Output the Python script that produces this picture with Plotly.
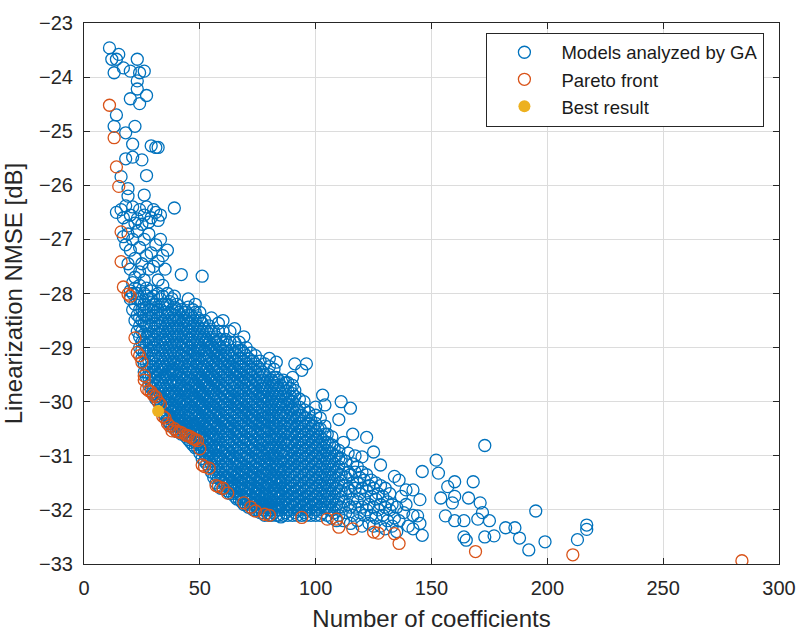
import plotly.graph_objects as go

# ---------------------------------------------------------------
# Models evaluated by the genetic algorithm (GA)
# sparse models with few coefficients (upper-left branch)
ga_sparse_coeffs = [11, 15, 12, 14, 23, 17, 20, 13, 24, 26, 23, 23, 27, 20, 24,
                    14, 13, 22, 18, 21, 29, 31, 32, 18, 21, 25, 16, 27, 19, 26,
                    19, 39, 14, 16, 18, 20, 21, 23, 24, 26, 27, 29, 31, 32, 17,
                    22, 25, 28, 19, 30, 33, 17, 18, 19, 20, 21, 22, 23, 24, 25,
                    26, 27, 28, 29, 30, 31, 32, 33, 34, 35, 36, 20, 22, 19, 21,
                    24, 26, 28, 23, 42, 51]
ga_sparse_nmse = [-23.46, -23.58, -23.67, -23.67, -23.67, -23.83, -23.89, -23.92,
                  -23.92, -23.89, -24.07, -24.22, -24.34, -24.40, -24.49, -24.70,
                  -24.91, -24.91, -25.03, -25.24, -25.27, -25.30, -25.30, -25.51,
                  -25.48, -25.53, -25.84, -25.82, -26.06, -26.18, -26.20, -26.42,
                  -26.50, -26.45, -26.38, -26.55, -26.40, -26.62, -26.45, -26.55,
                  -26.40, -26.60, -26.50, -26.65, -26.60, -26.70, -26.72, -26.68,
                  -26.75, -26.45, -26.55, -26.95, -27.10, -26.90, -27.20, -27.00,
                  -27.35, -26.85, -27.15, -27.45, -27.00, -27.30, -26.90, -27.25,
                  -27.50, -27.10, -27.40, -27.00, -27.30, -27.55, -27.20, -27.55,
                  -27.70, -27.45, -27.80, -27.60, -27.75, -27.55, -28.00, -27.65,
                  -27.68]

# dense core of the cloud: NMSE values [dB] per number of coefficients
ga_core = {
    20: [-28.10, -27.95],
    21: [-28.30, -28.00],
    22: [-28.50, -28.20, -27.90],
    23: [-28.70, -28.40, -28.10],
    24: [-29.00, -28.60, -28.30, -27.85],
    25: [-29.20, -28.90, -28.50, -28.15],
    26: [-29.45, -29.10, -28.75, -28.40, -28.00],
    27: [-29.55, -29.30, -28.95, -28.60, -28.25, -27.90],
    28: [-29.70, -29.40, -29.05, -28.80, -28.45, -28.10],
    29: [-29.75, -29.50, -29.20, -28.90, -28.60, -28.30, -27.95],
    30: [-29.85, -29.60, -29.35, -29.00, -28.70, -28.40, -28.05],
    31: [-29.95, -29.70, -29.45, -29.15, -28.85, -28.55, -28.20],
    32: [-30.00, -29.80, -29.50, -29.25, -28.95, -28.60, -28.30, -27.75],
    33: [-30.10, -29.85, -29.60, -29.35, -29.05, -28.75, -28.45, -28.10],
    34: [-30.20, -29.95, -29.70, -29.40, -29.15, -28.85, -28.55, -28.20, -27.85],
    35: [-30.25, -30.00, -29.75, -29.50, -29.20, -28.90, -28.65, -28.35],
    36: [-30.35, -30.10, -29.85, -29.55, -29.30, -29.00, -28.70, -28.40, -28.00],
    37: [-30.40, -30.15, -29.90, -29.65, -29.40, -29.10, -28.80, -28.50, -28.15],
    38: [-30.45, -30.20, -29.95, -29.70, -29.45, -29.20, -28.90, -28.60, -28.30],
    39: [-30.50, -30.30, -30.05, -29.80, -29.50, -29.25, -28.95, -28.65, -28.40, -28.05],
    40: [-30.55, -30.30, -30.10, -29.85, -29.60, -29.30, -29.05, -28.75, -28.45, -28.20],
    41: [-30.55, -30.35, -30.15, -29.90, -29.65, -29.35, -29.10, -28.80, -28.50],
    42: [-30.60, -30.40, -30.20, -29.95, -29.70, -29.45, -29.15, -28.90, -28.60, -28.30],
    43: [-30.60, -30.45, -30.25, -30.00, -29.75, -29.50, -29.20, -28.95, -28.65, -28.35],
    44: [-30.65, -30.45, -30.20, -29.95, -29.70, -29.40, -29.10, -28.80, -28.50],
    45: [-30.70, -30.50, -30.30, -30.05, -29.80, -29.55, -29.25, -29.00, -28.70, -28.40, -28.10],
    46: [-30.75, -30.50, -30.25, -30.00, -29.75, -29.45, -29.15, -28.85, -28.55],
    47: [-30.80, -30.55, -30.35, -30.10, -29.85, -29.60, -29.30, -29.05, -28.75, -28.45],
    48: [-30.85, -30.60, -30.40, -30.15, -29.90, -29.65, -29.35, -29.10, -28.80, -28.50, -28.20],
    49: [-30.85, -30.65, -30.40, -30.20, -29.95, -29.70, -29.45, -29.20, -28.90, -28.60],
    50: [-30.95, -30.70, -30.50, -30.25, -30.00, -29.75, -29.50, -29.20, -28.95, -28.65, -28.35],
    51: [-31.05, -30.80, -30.55, -30.30, -30.05, -29.80, -29.55, -29.30, -29.00, -28.70],
    52: [-31.10, -30.85, -30.60, -30.35, -30.10, -29.85, -29.60, -29.35, -29.05, -28.80, -28.50],
    53: [-31.15, -30.90, -30.65, -30.40, -30.15, -29.90, -29.65, -29.40, -29.10, -28.85],
    54: [-31.20, -30.95, -30.70, -30.45, -30.20, -29.95, -29.70, -29.45, -29.15, -28.90, -28.60],
    55: [-31.30, -31.05, -30.80, -30.55, -30.30, -30.05, -29.75, -29.50, -29.20, -28.95, -28.45],
    56: [-31.40, -31.10, -30.85, -30.60, -30.35, -30.10, -29.80, -29.55, -29.25, -29.00, -28.70],
    57: [-31.50, -31.20, -30.90, -30.65, -30.40, -30.15, -29.85, -29.60, -29.30, -29.05, -28.80],
    58: [-31.55, -31.25, -31.00, -30.70, -30.45, -30.20, -29.90, -29.65, -29.35, -29.10, -28.55],
    59: [-31.60, -31.35, -31.05, -30.80, -30.50, -30.25, -29.95, -29.70, -29.40, -29.15, -28.85],
    60: [-31.60, -31.40, -31.10, -30.85, -30.55, -30.30, -30.00, -29.75, -29.45, -29.20, -28.90, -28.50],
    61: [-31.55, -31.30, -31.00, -30.75, -30.45, -30.20, -29.90, -29.60, -29.30, -29.00],
    62: [-31.65, -31.40, -31.15, -30.90, -30.60, -30.35, -30.05, -29.80, -29.50, -29.25, -28.95],
    63: [-31.70, -31.45, -31.20, -30.95, -30.65, -30.40, -30.10, -29.85, -29.55, -29.30, -28.70],
    64: [-31.70, -31.50, -31.25, -31.00, -30.70, -30.45, -30.15, -29.90, -29.60, -29.35, -29.05],
    65: [-31.75, -31.55, -31.30, -31.05, -30.75, -30.50, -30.20, -29.95, -29.65, -29.40, -29.10, -28.65],
    66: [-31.80, -31.60, -31.35, -31.10, -30.80, -30.55, -30.25, -30.00, -29.70, -29.45, -29.15],
    67: [-31.80, -31.55, -31.30, -31.00, -30.70, -30.40, -30.10, -29.80, -29.50, -29.20, -28.90],
    68: [-31.85, -31.60, -31.40, -31.15, -30.85, -30.60, -30.30, -30.05, -29.75, -29.50, -29.20],
    69: [-31.90, -31.65, -31.45, -31.20, -30.90, -30.65, -30.35, -30.10, -29.80, -29.55, -29.25, -28.80],
    70: [-31.90, -31.70, -31.45, -31.20, -30.95, -30.70, -30.40, -30.15, -29.85, -29.60, -29.30, -29.00],
    71: [-31.95, -31.70, -31.50, -31.25, -31.00, -30.70, -30.45, -30.20, -29.90, -29.60, -29.35],
    72: [-31.95, -31.75, -31.50, -31.30, -31.05, -30.75, -30.50, -30.25, -29.95, -29.65, -29.40, -29.10],
    73: [-32.00, -31.80, -31.55, -31.30, -31.05, -30.80, -30.50, -30.25, -29.95, -29.70, -29.40],
    74: [-32.00, -31.80, -31.60, -31.35, -31.10, -30.85, -30.55, -30.30, -30.00, -29.75, -29.45, -29.15],
    75: [-32.00, -31.85, -31.60, -31.40, -31.15, -30.90, -30.60, -30.35, -30.05, -29.80, -29.50],
    76: [-32.05, -31.85, -31.65, -31.40, -31.15, -30.90, -30.65, -30.40, -30.10, -29.85, -29.55, -29.25],
    77: [-32.05, -31.90, -31.70, -31.45, -31.20, -30.95, -30.70, -30.40, -30.15, -29.90, -29.60],
    78: [-32.10, -31.90, -31.70, -31.50, -31.25, -31.00, -30.70, -30.45, -30.20, -29.90, -29.65, -29.30],
    79: [-32.05, -31.85, -31.60, -31.35, -31.10, -30.85, -30.55, -30.30, -30.00, -29.75],
    80: [-32.10, -31.90, -31.70, -31.45, -31.20, -30.95, -30.65, -30.35, -30.10, -29.80, -29.50, -29.20],
    81: [-32.10, -31.95, -31.75, -31.50, -31.25, -31.00, -30.70, -30.40, -30.15, -29.85, -29.60],
    82: [-32.05, -31.85, -31.60, -31.35, -31.05, -30.80, -30.50, -30.25, -29.95, -29.65, -29.40],
    83: [-32.10, -31.90, -31.65, -31.40, -31.15, -30.85, -30.60, -30.30, -30.00, -29.70, -29.27],
    84: [-32.10, -31.95, -31.70, -31.45, -31.20, -30.90, -30.65, -30.35, -30.05, -29.75],
    85: [-32.13, -31.90, -31.65, -31.40, -31.10, -30.85, -30.55, -30.25, -30.00, -29.70],
    86: [-32.10, -31.85, -31.60, -31.30, -31.00, -30.75, -30.45, -30.20, -29.90, -29.60],
    87: [-32.05, -31.80, -31.55, -31.25, -30.95, -30.70, -30.40, -30.10, -29.80],
    88: [-32.10, -31.90, -31.65, -31.35, -31.10, -30.80, -30.50, -30.20, -29.95, -29.65],
    89: [-32.00, -31.75, -31.50, -31.20, -30.90, -30.60, -30.30, -30.00, -29.75],
    90: [-32.10, -31.85, -31.60, -31.30, -31.05, -30.75, -30.45, -30.15, -29.85, -29.55],
    91: [-32.05, -31.80, -31.55, -31.25, -30.95, -30.65, -30.35, -30.05, -29.79, -29.30],
    92: [-32.10, -31.90, -31.65, -31.35, -31.05, -30.75, -30.45, -30.15],
    93: [-32.00, -31.75, -31.45, -31.15, -30.85, -30.55, -30.25, -29.95],
    94: [-32.10, -31.85, -31.60, -31.30, -31.00, -30.70, -30.40, -29.42],
    95: [-32.05, -31.80, -31.50, -31.20, -30.90, -30.60, -30.30, -30.00],
    96: [-32.10, -31.90, -31.65, -31.35, -31.05, -30.75, -30.45, -29.30],
    97: [-32.00, -31.75, -31.45, -31.15, -30.85, -30.55, -30.20],
    98: [-32.10, -31.85, -31.55, -31.25, -30.95, -30.65, -30.35],
    99: [-32.05, -31.80, -31.50, -31.20, -30.90, -30.60],
    100: [-32.10, -31.90, -31.60, -31.30, -31.00, -30.70, -30.40, -30.10],
    101: [-32.00, -31.70, -31.40, -31.10, -30.80, -30.50],
    102: [-32.10, -31.85, -31.55, -31.25, -30.95, -30.65, -30.30],
    103: [-32.05, -31.75, -31.45, -31.15, -30.85, -29.88],
    104: [-31.95, -31.65, -31.35, -31.05, -30.75, -30.45, -30.06],
    105: [-32.10, -31.80, -31.50, -31.20, -30.90, -30.60],
    106: [-32.00, -31.70, -31.40, -31.10, -30.80],
    107: [-32.15, -31.85, -31.55, -31.25, -30.95, -30.65],
    108: [-32.05, -31.75, -31.45, -31.15, -30.85],
    109: [-32.20, -31.90, -31.60, -31.30, -31.00],
    110: [-32.10, -31.80, -31.50, -31.20, -30.90, -30.33],
    111: [-31.95, -31.65, -31.35, -31.05, -30.00],
    112: [-32.20, -31.85, -31.55, -31.25, -30.75],
    113: [-32.05, -31.70, -31.40, -31.10],
    114: [-31.90, -31.60, -31.30, -30.95],
    115: [-32.25, -31.95, -31.65, -31.35, -30.12],
    116: [-32.10, -31.80, -31.50, -31.15, -30.60],
    117: [-31.95, -31.60, -31.30, -31.00],
    118: [-32.20, -31.85, -31.50, -31.20],
    119: [-32.05, -31.70, -31.40],
    120: [-32.30, -31.95, -31.60, -31.30, -31.02],
    121: [-32.10, -31.80, -31.45],
    122: [-32.00, -31.65, -31.35, -30.66],
    123: [-32.25, -31.90, -31.55],
    124: [-32.10, -31.75, -31.45],
    125: [-32.30, -31.95, -31.60, -30.93],
    126: [-32.15, -31.80, -31.50],
    127: [-32.00, -31.70],
    128: [-32.30, -31.90, -31.55, -31.17],
    129: [-32.10, -31.75],
    130: [-32.35, -31.95, -31.60],
    131: [-32.20, -31.85],
    132: [-32.00, -31.70],
    133: [-32.30, -31.90],
    134: [-32.15, -31.38],
    135: [-32.40, -31.95],
    136: [-32.20, -31.45],
    137: [-31.75],
    138: [-32.05],
    139: [-31.90, -31.63],
    140: [-32.30],
    142: [-32.35, -32.10, -31.63],
    144: [-32.11],
    145: [-32.25, -31.81],
    146: [-32.47, -31.29],
}

# further models packed inside the core (second GA generation batch)
ga_core_more = {
    24: [-28.80, -28.45, -28.10],
    25: [-29.05, -28.70, -28.30],
    26: [-29.30, -28.90, -28.55, -28.20],
    27: [-29.45, -29.10, -28.80, -28.40, -28.05],
    28: [-29.55, -29.25, -28.90, -28.60, -28.30],
    29: [-29.65, -29.35, -29.05, -28.75, -28.45, -28.10],
    30: [-29.75, -29.45, -29.15, -28.85, -28.55, -28.20],
    31: [-29.85, -29.55, -29.30, -29.00, -28.70, -28.35],
    32: [-29.90, -29.65, -29.40, -29.10, -28.75, -28.45, -28.00],
    33: [-30.00, -29.75, -29.45, -29.20, -28.90, -28.60, -28.30],
    34: [-30.10, -29.85, -29.55, -29.30, -29.00, -28.70, -28.40, -28.05],
    35: [-30.15, -29.90, -29.60, -29.35, -29.05, -28.80, -28.50, -28.20],
    36: [-30.25, -30.00, -29.70, -29.45, -29.15, -28.85, -28.55, -28.20],
    37: [-30.30, -30.05, -29.80, -29.50, -29.25, -28.95, -28.65, -28.35],
    38: [-30.35, -30.10, -29.85, -29.60, -29.35, -29.05, -28.75, -28.45, -28.10],
    39: [-30.40, -30.15, -29.90, -29.65, -29.40, -29.10, -28.80, -28.50, -28.25],
    40: [-30.45, -30.20, -29.95, -29.70, -29.45, -29.20, -28.90, -28.60, -28.30],
    41: [-30.45, -30.25, -30.00, -29.75, -29.50, -29.25, -28.95, -28.65, -28.35],
    42: [-30.50, -30.30, -30.05, -29.80, -29.55, -29.30, -29.00, -28.75, -28.45],
    43: [-30.55, -30.35, -30.10, -29.85, -29.60, -29.35, -29.05, -28.80, -28.50],
    44: [-30.55, -30.35, -30.05, -29.80, -29.55, -29.25, -28.95, -28.65, -28.35],
    45: [-30.60, -30.40, -30.15, -29.90, -29.65, -29.40, -29.10, -28.85, -28.55, -28.25],
    46: [-30.65, -30.40, -30.10, -29.85, -29.60, -29.30, -29.00, -28.70, -28.40],
    47: [-30.70, -30.45, -30.20, -29.95, -29.70, -29.45, -29.15, -28.90, -28.60, -28.30],
    48: [-30.75, -30.50, -30.25, -30.00, -29.75, -29.50, -29.20, -28.95, -28.65, -28.35],
    49: [-30.75, -30.55, -30.30, -30.05, -29.80, -29.55, -29.30, -29.05, -28.75, -28.45],
    50: [-30.80, -30.60, -30.35, -30.10, -29.85, -29.60, -29.35, -29.05, -28.80, -28.50],
    51: [-30.90, -30.65, -30.40, -30.15, -29.90, -29.65, -29.40, -29.15, -28.85, -28.55],
    52: [-30.95, -30.70, -30.45, -30.20, -29.95, -29.70, -29.45, -29.20, -28.90, -28.65],
    53: [-31.00, -30.75, -30.50, -30.25, -30.00, -29.75, -29.50, -29.25, -28.95, -28.70],
    54: [-31.05, -30.80, -30.55, -30.30, -30.05, -29.80, -29.55, -29.30, -29.00, -28.75],
    55: [-31.15, -30.90, -30.65, -30.40, -30.15, -29.90, -29.60, -29.35, -29.05, -28.70],
    56: [-31.25, -30.95, -30.70, -30.45, -30.20, -29.95, -29.65, -29.40, -29.10, -28.85],
    57: [-31.35, -31.05, -30.80, -30.50, -30.25, -30.00, -29.70, -29.45, -29.15, -28.90],
    58: [-31.40, -31.10, -30.85, -30.55, -30.30, -30.05, -29.75, -29.50, -29.20, -28.95, -28.70],
    59: [-31.45, -31.20, -30.90, -30.65, -30.35, -30.10, -29.80, -29.55, -29.25, -29.00],
    60: [-31.50, -31.25, -30.95, -30.70, -30.40, -30.15, -29.85, -29.60, -29.30, -29.05, -28.70],
    61: [-31.45, -31.15, -30.90, -30.60, -30.35, -30.05, -29.75, -29.45, -29.15, -28.85],
    62: [-31.55, -31.30, -31.00, -30.75, -30.45, -30.20, -29.90, -29.65, -29.35, -29.10],
    63: [-31.60, -31.35, -31.05, -30.80, -30.50, -30.25, -29.95, -29.70, -29.40, -29.15, -28.90],
    64: [-31.60, -31.35, -31.10, -30.85, -30.55, -30.30, -30.00, -29.75, -29.45, -29.20],
    65: [-31.65, -31.40, -31.15, -30.90, -30.60, -30.35, -30.05, -29.80, -29.50, -29.25, -28.90],
    66: [-31.70, -31.45, -31.20, -30.95, -30.65, -30.40, -30.10, -29.85, -29.55, -29.30, -29.00],
    67: [-31.70, -31.45, -31.15, -30.85, -30.55, -30.25, -29.95, -29.65, -29.35, -29.05],
    68: [-31.75, -31.50, -31.25, -31.00, -30.70, -30.45, -30.15, -29.90, -29.60, -29.35, -29.05],
    69: [-31.80, -31.55, -31.30, -31.05, -30.75, -30.50, -30.20, -29.95, -29.65, -29.40, -29.10],
    70: [-31.80, -31.60, -31.30, -31.05, -30.80, -30.55, -30.25, -30.00, -29.70, -29.45, -29.15],
    71: [-31.85, -31.60, -31.35, -31.10, -30.85, -30.55, -30.30, -30.05, -29.75, -29.50, -29.20],
    72: [-31.85, -31.60, -31.40, -31.15, -30.90, -30.60, -30.35, -30.10, -29.80, -29.50, -29.25],
    73: [-31.90, -31.65, -31.40, -31.20, -30.90, -30.65, -30.35, -30.10, -29.80, -29.55, -29.25],
    74: [-31.90, -31.70, -31.45, -31.20, -30.95, -30.70, -30.40, -30.15, -29.85, -29.60, -29.30],
    75: [-31.95, -31.70, -31.50, -31.25, -31.00, -30.75, -30.45, -30.20, -29.90, -29.65, -29.35],
    76: [-31.95, -31.75, -31.50, -31.30, -31.05, -30.80, -30.50, -30.25, -29.95, -29.70, -29.40],
    77: [-32.00, -31.80, -31.55, -31.30, -31.05, -30.80, -30.55, -30.30, -30.00, -29.75, -29.45],
    78: [-32.00, -31.80, -31.60, -31.35, -31.10, -30.85, -30.55, -30.30, -30.05, -29.75, -29.50],
    79: [-31.95, -31.75, -31.50, -31.25, -30.95, -30.70, -30.45, -30.15, -29.90, -29.60],
    80: [-32.00, -31.80, -31.55, -31.30, -31.05, -30.80, -30.50, -30.25, -29.95, -29.65, -29.35],
    81: [-32.00, -31.85, -31.60, -31.35, -31.10, -30.85, -30.55, -30.25, -30.00, -29.70],
    82: [-31.95, -31.70, -31.45, -31.20, -30.95, -30.65, -30.40, -30.10, -29.80, -29.55],
    83: [-32.00, -31.75, -31.50, -31.25, -31.00, -30.70, -30.45, -30.15, -29.85, -29.55],
    84: [-32.00, -31.80, -31.55, -31.30, -31.05, -30.75, -30.50, -30.20, -29.90, -29.60],
    85: [-32.00, -31.75, -31.50, -31.25, -30.95, -30.70, -30.40, -30.10, -29.85],
    86: [-31.95, -31.70, -31.45, -31.15, -30.90, -30.60, -30.30, -30.05, -29.75],
    87: [-31.90, -31.65, -31.40, -31.10, -30.80, -30.55, -30.25, -29.95, -29.65],
    88: [-32.00, -31.75, -31.50, -31.20, -30.95, -30.65, -30.35, -30.05, -29.80],
    89: [-31.90, -31.60, -31.35, -31.05, -30.75, -30.45, -30.15, -29.90],
    90: [-31.95, -31.70, -31.45, -31.15, -30.90, -30.60, -30.30, -30.00, -29.70],
    91: [-31.90, -31.65, -31.40, -31.10, -30.80, -30.50, -30.20, -29.90],
    92: [-32.00, -31.75, -31.50, -31.20, -30.90, -30.60, -30.30],
    93: [-31.85, -31.60, -31.30, -31.00, -30.70, -30.40, -30.10],
    94: [-31.95, -31.70, -31.45, -31.15, -30.85, -30.55, -30.25],
    95: [-31.90, -31.65, -31.35, -31.05, -30.75, -30.45, -30.15],
    96: [-32.00, -31.75, -31.50, -31.20, -30.90, -30.60, -30.30],
    97: [-31.90, -31.60, -31.30, -31.00, -30.70, -30.40],
    98: [-31.95, -31.70, -31.40, -31.10, -30.80, -30.50],
    99: [-31.90, -31.65, -31.35, -31.05, -30.75, -30.45],
    100: [-32.00, -31.75, -31.45, -31.15, -30.85, -30.55, -30.25],
    101: [-31.85, -31.55, -31.25, -30.95, -30.65],
    102: [-31.95, -31.70, -31.40, -31.10, -30.80, -30.50],
    103: [-31.90, -31.60, -31.30, -31.00, -30.70],
    104: [-31.80, -31.50, -31.20, -30.90, -30.60],
    105: [-31.95, -31.65, -31.35, -31.05, -30.75],
    106: [-31.85, -31.55, -31.25, -30.95],
    107: [-32.00, -31.70, -31.40, -31.10, -30.80],
    108: [-31.90, -31.60, -31.30, -31.00],
    110: [-31.95, -31.65, -31.35, -31.05],
}

# long tail of large models
ga_tail_coeffs = [152, 153, 173, 168, 160, 157, 154, 160, 159, 166, 171, 172, 170,
                  175, 156, 160, 164, 164, 165, 173, 177, 182, 186, 195, 188, 192,
                  199, 217, 217, 213]
ga_tail_nmse = [-31.08, -31.32, -30.81, -31.48, -31.48, -31.57, -31.78, -31.75,
                -31.87, -31.78, -31.87, -32.05, -32.17, -32.20, -32.11, -32.20,
                -32.20, -32.50, -32.56, -32.50, -32.48, -32.33, -32.33, -32.02,
                -32.52, -32.74, -32.59, -32.28, -32.36, -32.55]

# Pareto-optimal models
pareto_coeffs = [11, 13, 14, 15, 16, 16, 17, 19, 20, 22, 23, 24, 25, 26, 26, 27,
                 28, 29, 30, 31, 32, 33, 34, 35, 36, 37, 38, 39, 40, 41, 42, 44,
                 45, 46, 47, 48, 49, 50, 51, 52, 54, 57, 58, 60, 62, 69, 72, 74,
                 78, 80, 94, 105, 109, 110, 116, 125, 127, 134, 136, 169, 211, 284]
pareto_nmse = [-24.52, -25.12, -25.66, -26.02, -26.86, -27.41, -27.88, -28.01,
               -28.05, -28.82, -29.09, -29.15, -29.27, -29.52, -29.60, -29.76,
               -29.80, -29.82, -29.88, -29.91, -30.00, -30.05, -30.27, -30.30,
               -30.40, -30.45, -30.54, -30.50, -30.55, -30.56, -30.57, -30.62,
               -30.63, -30.65, -30.68, -30.70, -30.72, -30.87, -31.17, -31.20,
               -31.23, -31.55, -31.57, -31.60, -31.69, -31.87, -31.95, -32.02,
               -32.08, -32.10, -32.14, -32.17, -32.17, -32.32, -32.35, -32.41,
               -32.43, -32.44, -32.62, -32.77, -32.83, -32.94]

# selected model
best_coeffs = [32]
best_nmse = [-30.17]

# ---------------------------------------------------------------
ga_x = list(ga_sparse_coeffs)
ga_y = list(ga_sparse_nmse)
for table in (ga_core, ga_core_more):
    for n, values in table.items():
        ga_x += [n] * len(values)
        ga_y += values
ga_x += ga_tail_coeffs
ga_y += ga_tail_nmse

BLUE = "#0072BD"
ORANGE = "#D95319"
YELLOW = "#EDB120"
AXIS = "#262626"
FONT = "Liberation Sans, Arial, sans-serif"

fig = go.Figure()
fig.add_trace(go.Scatter(
    x=ga_x, y=ga_y, mode="markers", name="Models analyzed by GA",
    marker=dict(symbol="circle-open", size=12, color=BLUE, line=dict(width=1.3)),
))
fig.add_trace(go.Scatter(
    x=pareto_coeffs, y=pareto_nmse, mode="markers", name="Pareto front",
    marker=dict(symbol="circle-open", size=12, color=ORANGE, line=dict(width=1.3)),
))
fig.add_trace(go.Scatter(
    x=best_coeffs, y=best_nmse, mode="markers", name="Best result",
    marker=dict(symbol="circle", size=12, color=YELLOW),
))

axis_common = dict(
    showgrid=True, gridcolor="#dcdcdc", gridwidth=1,
    showline=True, linecolor=AXIS, linewidth=1, mirror="allticks",
    ticks="inside", ticklen=6, tickcolor=AXIS, zeroline=False,
    tickfont=dict(family=FONT, size=20, color=AXIS),
)

fig.update_layout(
    width=808, height=640,
    margin=dict(l=84, r=21, t=13, b=74),
    paper_bgcolor="white", plot_bgcolor="white",
    font=dict(family=FONT, color=AXIS),
    showlegend=True,
    legend=dict(
        x=0.979, y=0.982, xanchor="right", yanchor="top",
        bgcolor="white", bordercolor=AXIS, borderwidth=1,
        font=dict(family=FONT, size=18.5, color="#1a1a1a"),
        itemwidth=64, tracegroupgap=0,
    ),
    xaxis=dict(range=[0, 300], dtick=50, tick0=0, ticklabelstandoff=6,
               title=dict(text="Number of coefficients", standoff=12,
                          font=dict(family=FONT, size=24, color=AXIS)),
               **axis_common),
    yaxis=dict(range=[-33, -23], dtick=1, tick0=-33, ticklabelstandoff=6,
               title=dict(text="Linearization NMSE [dB]", standoff=10,
                          font=dict(family=FONT, size=24, color=AXIS)),
               **axis_common),
)

fig.write_html("out.html")
